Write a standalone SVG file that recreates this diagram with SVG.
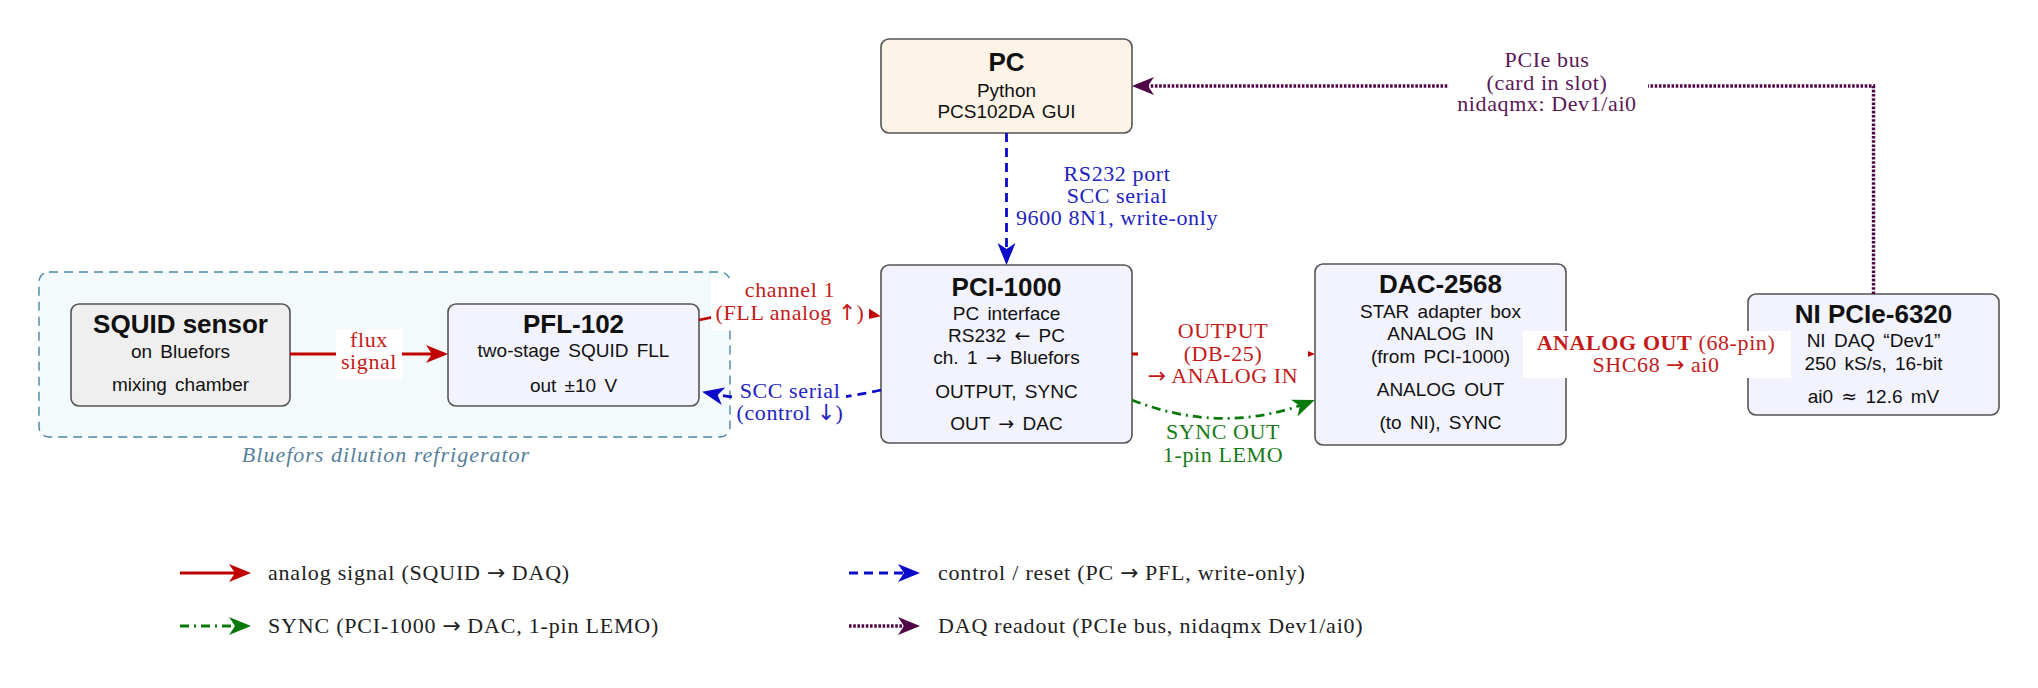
<svg xmlns="http://www.w3.org/2000/svg" width="2038" height="688" viewBox="0 0 2038 688">
<style>
.nd rect{stroke:#555;stroke-width:1.6}
.t{font-family:'Liberation Sans',Arial,sans-serif;text-anchor:middle;fill:#111}
.ti{font-size:26px;font-weight:bold}
.su{font-size:19px;word-spacing:3px}
.l{font-family:'Liberation Serif','Times New Roman',serif;font-size:22px;text-anchor:middle;letter-spacing:0.6px}
.lg{font-family:'Liberation Serif','Times New Roman',serif;font-size:22px;letter-spacing:0.8px;fill:#222}
.a{font-family:'DejaVu Sans',sans-serif;font-weight:normal;letter-spacing:0}
.r{fill:#c41a1a}.b{fill:#2323c0}.g{fill:#187a18}.p{fill:#5a1656}
.bg{fill:#fff}
.c{fill:none;stroke-width:2.8}
.cr{stroke:#c00000}
.cb{stroke:#0a0ac8;stroke-dasharray:9 6}
.cg{stroke:#0a780a;stroke-dasharray:9 5 2 5}
.cp{stroke:#4e0848;stroke-width:3.4;stroke-dasharray:2.6 1.6}
</style>
<defs>
<marker id="ar" markerUnits="userSpaceOnUse" markerWidth="22" markerHeight="18" viewBox="0 0 22 18" refX="18" refY="9" orient="auto"><path d="M0,0 L22,9 L0,18 L6,9 Z" fill="#c00000"/></marker>
<marker id="ab" markerUnits="userSpaceOnUse" markerWidth="22" markerHeight="18" viewBox="0 0 22 18" refX="18" refY="9" orient="auto"><path d="M0,0 L22,9 L0,18 L6,9 Z" fill="#0a0ac8"/></marker>
<marker id="ag" markerUnits="userSpaceOnUse" markerWidth="22" markerHeight="18" viewBox="0 0 22 18" refX="18" refY="9" orient="auto"><path d="M0,0 L22,9 L0,18 L6,9 Z" fill="#0a780a"/></marker>
<marker id="ap" markerUnits="userSpaceOnUse" markerWidth="22" markerHeight="18" viewBox="0 0 22 18" refX="18" refY="9" orient="auto"><path d="M0,0 L22,9 L0,18 L6,9 Z" fill="#4e0848"/></marker>
</defs>
<rect width="2038" height="688" fill="#fff"/>

<g id="bluefors">
<rect x="39" y="272" width="691" height="165" rx="10" fill="#f2fafc" stroke="#4c86a6" stroke-width="1.4" stroke-dasharray="9 6"/>
<text x="386" y="462" style="font-family:'Liberation Serif','Times New Roman',serif;font-size:22px;font-style:italic;text-anchor:middle;letter-spacing:1px" fill="#56809c">Bluefors dilution refrigerator</text>
</g>

<g id="squid" class="nd">
<rect x="71" y="304" width="219" height="102" rx="8" fill="#efefef"/>
<text class="t ti" x="180.5" y="333">SQUID sensor</text>
<text class="t su" x="180.5" y="358">on Bluefors</text>
<text class="t su" x="180.5" y="391">mixing chamber</text>
</g>

<g id="pfl" class="nd">
<rect x="448" y="304" width="251" height="102" rx="8" fill="#f3f3fe"/>
<text class="t ti" x="573.5" y="333">PFL-102</text>
<text class="t su" x="573.5" y="357">two-stage SQUID FLL</text>
<text class="t su" x="573.5" y="392">out ±10 V</text>
</g>

<g id="pc" class="nd">
<rect x="881" y="39" width="251" height="94" rx="8" fill="#fdf3e7"/>
<text class="t ti" x="1006.5" y="71">PC</text>
<text class="t su" x="1006.5" y="97">Python</text>
<text class="t su" x="1006.5" y="118">PCS102DA GUI</text>
</g>

<g id="pci1000" class="nd">
<rect x="881" y="265" width="251" height="178" rx="8" fill="#f3f3fe"/>
<text class="t ti" x="1006.5" y="296">PCI-1000</text>
<text class="t su" x="1006.5" y="320">PC interface</text>
<text class="t su" x="1006.5" y="342">RS232 <tspan class="a">←</tspan> PC</text>
<text class="t su" x="1006.5" y="364">ch. 1 <tspan class="a">→</tspan> Bluefors</text>
<text class="t su" x="1006.5" y="398">OUTPUT, SYNC</text>
<text class="t su" x="1006.5" y="430">OUT <tspan class="a">→</tspan> DAC</text>
</g>

<g id="dac2568" class="nd">
<rect x="1315" y="264" width="251" height="181" rx="8" fill="#f3f3fe"/>
<text class="t ti" x="1440.5" y="293">DAC-2568</text>
<text class="t su" x="1440.5" y="318">STAR adapter box</text>
<text class="t su" x="1440.5" y="340">ANALOG IN</text>
<text class="t su" x="1440.5" y="363">(from PCI-1000)</text>
<text class="t su" x="1440.5" y="396">ANALOG OUT</text>
<text class="t su" x="1440.5" y="429">(to NI), SYNC</text>
</g>

<g id="ni6320" class="nd">
<rect x="1748" y="294" width="251" height="121" rx="8" fill="#f3f3fe"/>
<text class="t ti" x="1873.5" y="323">NI PCIe-6320</text>
<text class="t su" x="1873.5" y="347">NI DAQ “Dev1”</text>
<text class="t su" x="1873.5" y="370">250 kS/s, 16-bit</text>
<text class="t su" x="1873.5" y="403">ai0 <tspan class="a">≈</tspan> 12.6 mV</text>
</g>

<g id="connectors">
<path class="c cr" d="M290,354 L444,354" marker-end="url(#ar)"/>
<rect class="bg" x="336" y="329" width="66" height="50"/>
<text class="l r" x="369" y="347">flux</text>
<text class="l r" x="369" y="369">signal</text>

<path class="c cr" d="M699,320 Q790,300 877,315.5" marker-end="url(#ar)"/>
<rect class="bg" x="711" y="278" width="158" height="52"/>
<text class="l r" x="790" y="297">channel 1</text>
<text class="l r" x="790" y="320">(FLL analog <tspan class="a">↑</tspan>)</text>

<path class="c cb" d="M881,390 Q790,410 706,392.5" marker-end="url(#ab)"/>
<rect class="bg" x="735" y="379" width="111" height="48"/>
<text class="l b" x="790" y="398">SCC serial</text>
<text class="l b" x="790" y="420">(control <tspan class="a">↓</tspan>)</text>

<path class="c cb" d="M1006.5,133 L1006.5,261" marker-end="url(#ab)"/>
<text class="l b" x="1117" y="181">RS232 port</text>
<text class="l b" x="1117" y="203">SCC serial</text>
<text class="l b" x="1117" y="225">9600 8N1, write-only</text>

<path class="c cp" d="M1873.5,294 L1873.5,86 L1136,86" marker-end="url(#ap)"/>
<rect class="bg" x="1449" y="48" width="199" height="72"/>
<text class="l p" x="1547" y="67">PCIe bus</text>
<text class="l p" x="1547" y="90">(card in slot)</text>
<text class="l p" x="1547" y="111">nidaqmx: Dev1/ai0</text>

<path class="c cr" d="M1132,354 L1311,354" marker-end="url(#ar)"/>
<rect class="bg" x="1138" y="318" width="170" height="74"/>
<text class="l r" x="1223" y="338">OUTPUT</text>
<text class="l r" x="1223" y="361">(DB-25)</text>
<text class="l r" x="1223" y="383"><tspan class="a">→</tspan> ANALOG IN</text>

<path class="c cg" d="M1132,400 Q1223,436 1311,401.5" marker-end="url(#ag)"/>
<text class="l g" x="1223" y="439">SYNC OUT</text>
<text class="l g" x="1223" y="462">1-pin LEMO</text>

<path class="c cr" d="M1566,354 L1744,354" marker-end="url(#ar)"/>
<rect class="bg" x="1523" y="331" width="268" height="47"/>
<text class="l r" x="1656" y="350"><tspan font-weight="bold">ANALOG OUT</tspan> (68-pin)</text>
<text class="l r" x="1656" y="372">SHC68 <tspan class="a">→</tspan> ai0</text>
</g>

<g id="legend">
<path class="c cr" d="M180,573 L247,573" marker-end="url(#ar)"/>
<text class="lg" x="268" y="580">analog signal (SQUID <tspan class="a">→</tspan> DAQ)</text>
<path class="c cb" d="M849,573 L916,573" marker-end="url(#ab)"/>
<text class="lg" x="938" y="580">control / reset (PC <tspan class="a">→</tspan> PFL, write-only)</text>
<path class="c cg" d="M180,626 L247,626" marker-end="url(#ag)"/>
<text class="lg" x="268" y="633">SYNC (PCI-1000 <tspan class="a">→</tspan> DAC, 1-pin LEMO)</text>
<path class="c cp" d="M849,626 L916,626" marker-end="url(#ap)"/>
<text class="lg" x="938" y="633">DAQ readout (PCIe bus, nidaqmx Dev1/ai0)</text>
</g>
</svg>
